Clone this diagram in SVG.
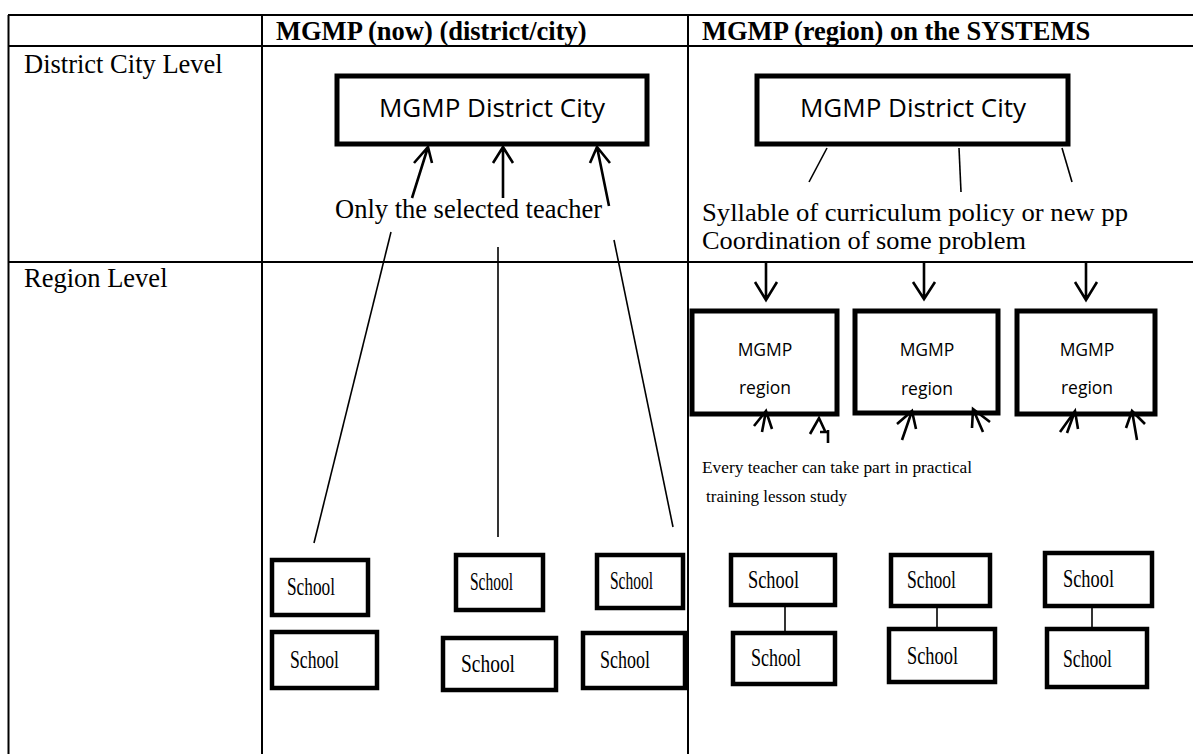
<svg xmlns="http://www.w3.org/2000/svg" width="1193" height="754" viewBox="0 0 1193 754">
<style>
.grid{stroke:#000;stroke-width:2;fill:none}
.box{fill:#fff;stroke:#000;stroke-width:5}
.sbox{fill:#fff;stroke:#000;stroke-width:4.5}
.ln{stroke:#000;stroke-width:1.6;fill:none}
.arr{stroke:#000;stroke-width:2.6;fill:none;stroke-linecap:butt}
.hd{font-family:"Liberation Serif","Times New Roman",serif;font-weight:bold;font-size:26.5px;fill:#000}
.tx{font-family:"Liberation Serif","Times New Roman",serif;font-size:26.5px;fill:#000}
.tx2{font-family:"Liberation Serif","Times New Roman",serif;font-size:25px;fill:#000}
.sm{font-family:"Liberation Serif","Times New Roman",serif;font-size:16.5px;fill:#000}
.sch{font-family:"Liberation Serif","Times New Roman",serif;font-size:25px;fill:#000}
.cal{font-family:"Open Sans","Liberation Sans",sans-serif;font-size:26px;fill:#000}
.cals{font-family:"Open Sans","Liberation Sans",sans-serif;font-size:17.5px;fill:#000}
</style>
<rect x="0" y="0" width="1193" height="754" fill="#fff"/>
<g id="table">
<line class="grid" x1="8" y1="15" x2="1193" y2="15"/>
<line class="grid" x1="8" y1="46" x2="1193" y2="46"/>
<line class="grid" x1="8" y1="262" x2="1193" y2="262"/>
<line class="grid" x1="8.5" y1="15" x2="8.5" y2="754"/>
<line class="grid" x1="262" y1="15" x2="262" y2="754"/>
<line class="grid" x1="688" y1="15" x2="688" y2="754"/>
<text class="hd" x="276" y="40">MGMP (now) (district/city)</text>
<text class="hd" x="702" y="40">MGMP (region) on the SYSTEMS</text>
<text class="tx" x="24" y="73">District City Level</text>
<text class="tx" x="24" y="287">Region Level</text>
</g>
<g id="district-now">
<rect class="box" x="337" y="76" width="310" height="68"/>
<text class="cal" x="492" y="117" text-anchor="middle">MGMP District City</text>
</g>
<g id="district-systems">
<rect class="box" x="757" y="76" width="311" height="68"/>
<text class="cal" x="913" y="117" text-anchor="middle">MGMP District City</text>
</g>
<g id="label-selected">
<text class="tx" x="335" y="218">Only the selected teacher</text>
</g>
<g id="label-syllable">
<text class="tx2" x="702" y="221" textLength="426" lengthAdjust="spacingAndGlyphs">Syllable of curriculum policy or new pp</text>
<text class="tx2" x="702" y="249" textLength="324" lengthAdjust="spacingAndGlyphs">Coordination of some problem</text>
</g>
<g id="region1">
<rect class="box" x="692" y="311" width="145" height="103"/>
<text class="cals" x="765" y="356" text-anchor="middle">MGMP</text>
<text class="cals" x="765" y="394" text-anchor="middle">region</text>
</g>
<g id="region2">
<rect class="box" x="855" y="311" width="143" height="102"/>
<text class="cals" x="927" y="356" text-anchor="middle">MGMP</text>
<text class="cals" x="927" y="395" text-anchor="middle">region</text>
</g>
<g id="region3">
<rect class="box" x="1017" y="311" width="138" height="103"/>
<text class="cals" x="1087" y="356" text-anchor="middle">MGMP</text>
<text class="cals" x="1087" y="394" text-anchor="middle">region</text>
</g>
<g id="label-every">
<text class="sm" x="702" y="473" textLength="270" lengthAdjust="spacingAndGlyphs">Every teacher can take part in practical</text>
<text class="sm" x="706" y="502" textLength="141" lengthAdjust="spacingAndGlyphs">training lesson study</text>
</g>
<g id="school-a1"><rect class="sbox" x="272" y="560" width="96" height="55"/><text class="sch" x="287" y="595" textLength="48" lengthAdjust="spacingAndGlyphs">School</text></g>
<g id="school-a2"><rect class="sbox" x="272" y="632" width="105" height="56"/><text class="sch" x="290" y="668" textLength="49" lengthAdjust="spacingAndGlyphs">School</text></g>
<g id="school-b1"><rect class="sbox" x="456" y="555" width="87" height="55"/><text class="sch" x="470" y="590" textLength="43" lengthAdjust="spacingAndGlyphs">School</text></g>
<g id="school-b2"><rect class="sbox" x="443" y="638" width="113" height="52"/><text class="sch" x="461" y="672" textLength="54" lengthAdjust="spacingAndGlyphs">School</text></g>
<g id="school-c1"><rect class="sbox" x="597" y="555" width="86" height="53"/><text class="sch" x="610" y="589" textLength="43" lengthAdjust="spacingAndGlyphs">School</text></g>
<g id="school-c2"><rect class="sbox" x="583" y="633" width="102" height="55"/><text class="sch" x="600" y="668" textLength="50" lengthAdjust="spacingAndGlyphs">School</text></g>
<g id="school-d1"><rect class="sbox" x="731" y="555" width="104" height="50"/><text class="sch" x="748" y="588" textLength="51" lengthAdjust="spacingAndGlyphs">School</text></g>
<g id="school-d2"><rect class="sbox" x="733" y="633" width="102" height="51"/><text class="sch" x="751" y="666" textLength="50" lengthAdjust="spacingAndGlyphs">School</text></g>
<g id="school-e1"><rect class="sbox" x="891" y="555" width="99" height="51"/><text class="sch" x="907" y="588" textLength="49" lengthAdjust="spacingAndGlyphs">School</text></g>
<g id="school-e2"><rect class="sbox" x="889" y="629" width="106" height="53"/><text class="sch" x="907" y="664" textLength="51" lengthAdjust="spacingAndGlyphs">School</text></g>
<g id="school-f1"><rect class="sbox" x="1045" y="553" width="107" height="53"/><text class="sch" x="1063" y="587" textLength="51" lengthAdjust="spacingAndGlyphs">School</text></g>
<g id="school-f2"><rect class="sbox" x="1047" y="629" width="100" height="58"/><text class="sch" x="1063" y="667" textLength="49" lengthAdjust="spacingAndGlyphs">School</text></g>
<g id="connectors">
<path class="arr" d="M412 198 L428 147 M414 163 L428 147 L432 163"/>
<path class="arr" d="M503 198 L503 147 M493 163 L503 147 L513 163"/>
<path class="arr" d="M609 206 L597 147 M590 163 L597 147 L610 163"/>
<line class="ln" x1="391" y1="232" x2="314" y2="543"/>
<line class="ln" x1="498" y1="247" x2="498" y2="537"/>
<line class="ln" x1="614" y1="240" x2="673" y2="527"/>
<line class="ln" x1="827" y1="148" x2="809" y2="182"/>
<line class="ln" x1="959" y1="148" x2="961" y2="192"/>
<line class="ln" x1="1062" y1="148" x2="1072" y2="182"/>
<path class="arr" d="M766 263 L766 300 M755 282 L766 300 L777 282"/>
<path class="arr" d="M924 263 L924 299 M913 282 L924 299 L935 282"/>
<path class="arr" d="M1086 263 L1086 300 M1075 282 L1086 300 L1097 282"/>
<path class="arr" d="M762 432 L766 411 M754 426 L766 411 L772 429"/>
<path class="arr" d="M810 434 L819 418 L825 431 M820 432 L829 432 M828 430 L828 443"/>
<path class="arr" d="M902 440 L912 411 M897 424 L912 411 L916 429"/>
<path class="arr" d="M983 432 L973 409 M972 428 L973 409 L990 422"/>
<path class="arr" d="M1067 433 L1075 411 M1060 432 L1075 411 L1078 429"/>
<path class="arr" d="M1137 440 L1132 411 M1126 428 L1132 411 L1145 424"/>
<line class="ln" x1="785" y1="605" x2="785" y2="633"/>
<line class="ln" x1="937" y1="606" x2="937" y2="629"/>
<line class="ln" x1="1092" y1="606" x2="1092" y2="629"/>
</g>
</svg>
